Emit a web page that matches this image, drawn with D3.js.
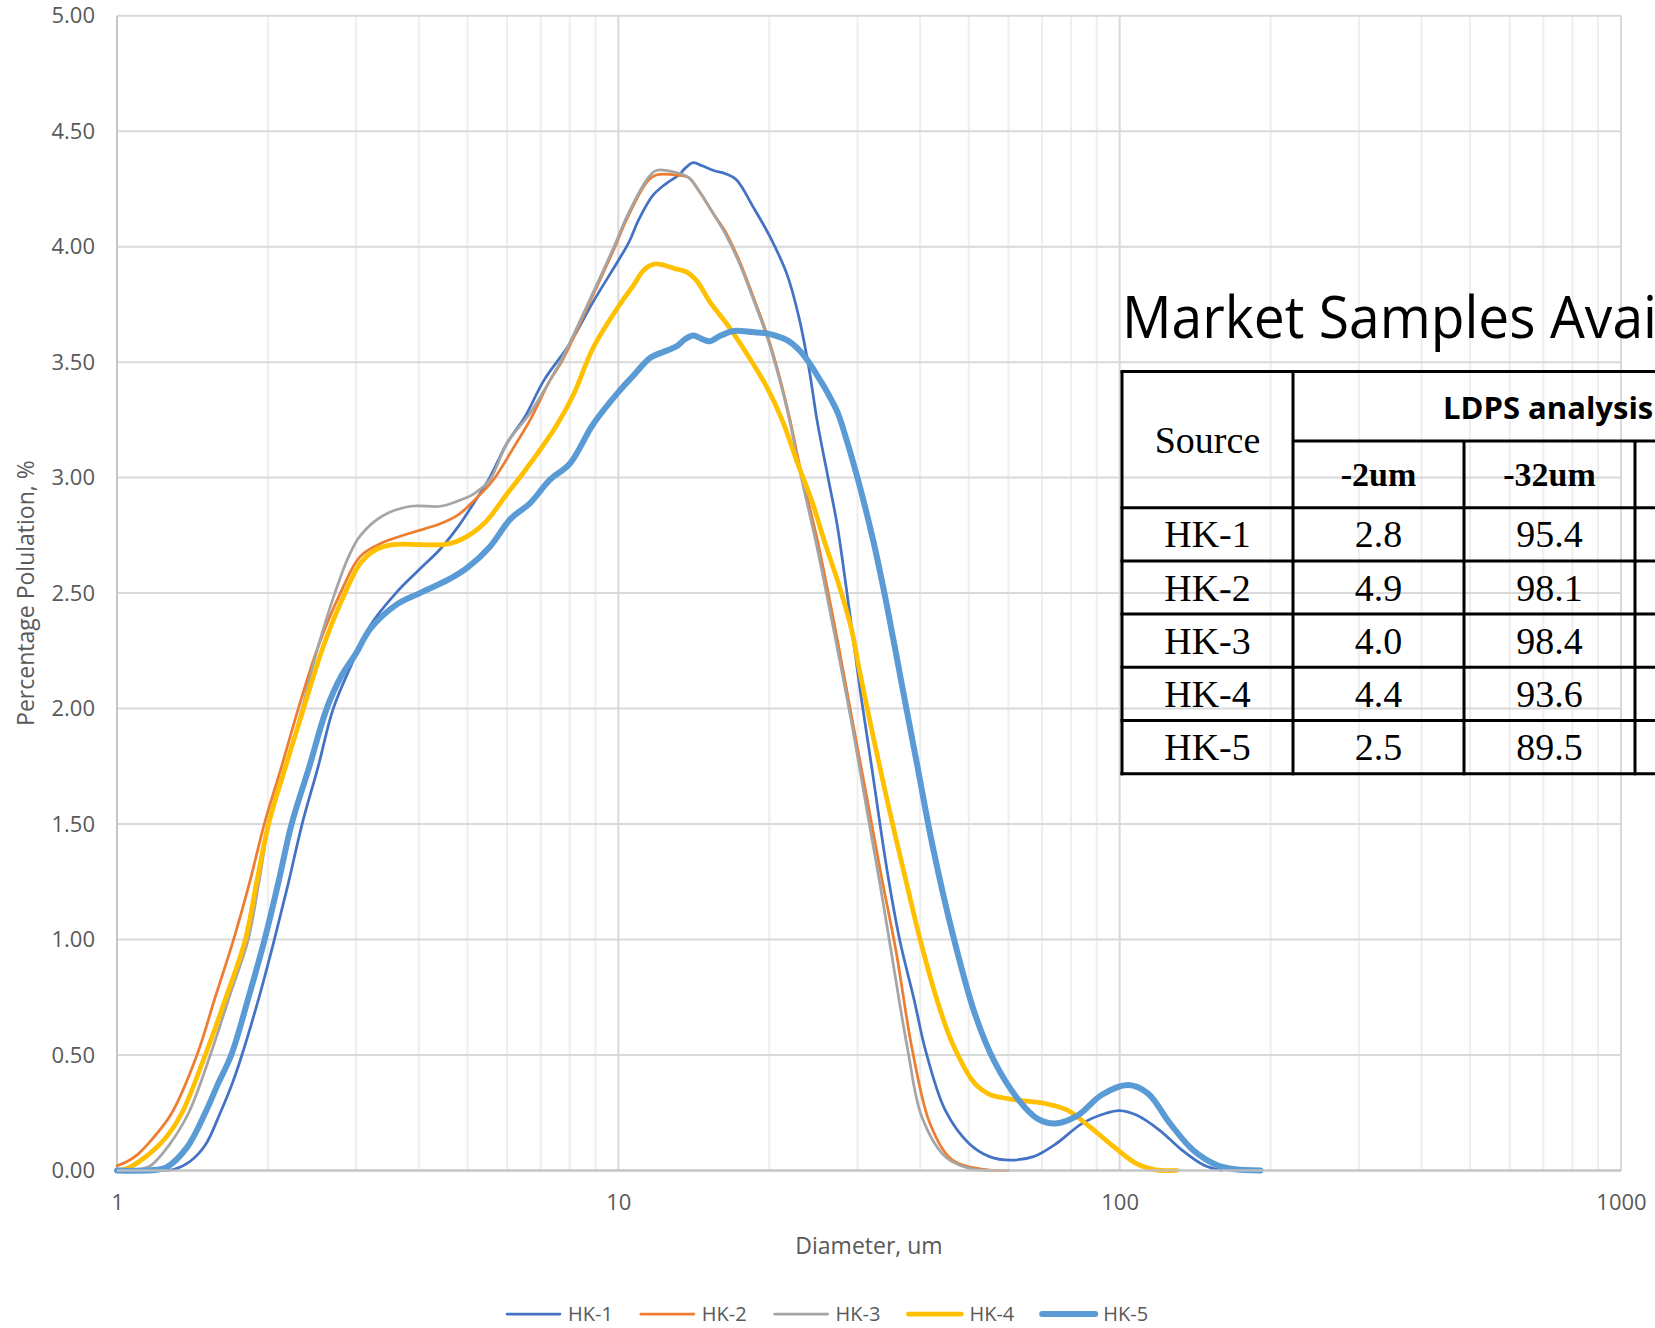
<!DOCTYPE html>
<html>
<head>
<meta charset="utf-8">
<script src="https://cdn.jsdelivr.net/npm/d3@7"></script>
<style>
  html, body { margin: 0; padding: 0; background: #ffffff; }
  svg { display: block; }
</style>
</head>
<body>
<svg id="chart" width="1655" height="1328"></svg>
<script>
// ---- particle size distributions: [diameter (um), population %] ----
const hk1 = [
  [1.0,0],[1.2,0],[1.3,0.005],[1.4,0.04],[1.5,0.11],[1.607,0.25],[1.7,0.38],[1.775,0.5],
  [1.92,0.75],[2.06,1.0],[2.2,1.25],[2.34,1.5],[2.52,1.75],[2.70,2.0],[2.95,2.2],[3.2,2.36],
  [3.6,2.5],[4.0,2.6],[4.41,2.69],[4.8,2.79],[5.15,2.89],[5.54,3.0],[6.0,3.15],[6.5,3.26],
  [7.1,3.42],[8.0,3.58],[8.9,3.76],[10.0,3.94],[10.5,4.02],[11.0,4.12],[11.7,4.22],[12.4,4.27],
  [13.2,4.31],[13.6,4.34],[14.1,4.364],[14.7,4.35],[15.5,4.33],[16.4,4.315],[17.2,4.29],
  [18.6,4.17],[20.1,4.04],[21.7,3.88],[23.0,3.68],[24.1,3.45],[24.9,3.25],[26.2,3.0],
  [27.3,2.8],[28.5,2.52],[29.5,2.28],[30.5,2.05],[32.0,1.75],[34.3,1.31],[36.4,1.0],
  [38.9,0.74],[41.0,0.52],[44.9,0.26],[50,0.118],[55,0.06],[60.6,0.045],[67.3,0.06],
  [74.9,0.118],[84.2,0.204],[93.9,0.248],[100,0.259],[108,0.24],[120,0.175],[133,0.089],
  [147,0.024],[160,0]
];
const hk2 = [
  [1.0,0.02],[1.05,0.04],[1.1,0.07],[1.18,0.14],[1.287,0.25],[1.444,0.5],[1.57,0.75],[1.708,1.0],
  [1.84,1.25],[1.967,1.5],[2.13,1.75],[2.30,2.0],[2.52,2.27],[2.79,2.5],[3.06,2.66],
  [3.4,2.72],[3.85,2.76],[4.41,2.8],[4.8,2.84],[5.15,2.9],[5.63,2.99],[6.18,3.13],
  [6.67,3.25],[7.3,3.42],[7.7,3.5],[8.9,3.79],[9.85,4.0],[10.4,4.12],[11.4,4.28],[11.9,4.31],
  [13.1,4.31],[13.8,4.30],[14.5,4.24],[15.5,4.14],[16.4,4.06],[17.5,3.93],[18.6,3.78],
  [19.8,3.62],[21.0,3.43],[22.0,3.25],[22.9,3.07],[25.0,2.72],[27.5,2.27],[29.4,1.93],
  [31.4,1.6],[33.5,1.27],[35.8,0.95],[38.6,0.52],[41.9,0.2],[46.4,0.045],[53.5,0.005],[60,0]
];
const hk3 = [
  [1.0,0],[1.1,0.004],[1.165,0.02],[1.27,0.11],[1.39,0.25],[1.535,0.5],[1.68,0.76],
  [1.827,1.0],[1.92,1.25],[2.01,1.5],[2.17,1.75],[2.34,2.0],[2.52,2.27],[2.72,2.5],
  [2.9,2.66],[3.06,2.75],[3.39,2.835],[3.85,2.876],[4.41,2.876],[4.8,2.9],[5.15,2.93],
  [5.54,2.99],[6.0,3.15],[6.67,3.28],[7.3,3.42],[7.7,3.51],[8.9,3.8],[9.85,4.01],
  [10.4,4.13],[11.4,4.29],[11.9,4.33],[13.1,4.32],[13.8,4.30],[14.5,4.24],[15.5,4.14],
  [16.4,4.05],[17.5,3.92],[18.6,3.77],[19.8,3.61],[21.0,3.42],[22.0,3.24],[22.9,3.05],
  [24.9,2.7],[27.4,2.25],[29.3,1.92],[31.2,1.58],[33.2,1.25],[35.0,0.95],[37.8,0.52],
  [40.3,0.233],[44.9,0.06],[50,0.01],[56,0]
];
const hk4 = [
  [1.0,0],[1.05,0.01],[1.165,0.075],[1.26,0.15],[1.348,0.25],[1.5,0.5],[1.65,0.75],
  [1.803,1.0],[1.9,1.25],[2.006,1.5],[2.17,1.75],[2.356,2.0],[2.58,2.27],[2.85,2.5],
  [3.06,2.63],[3.3,2.69],[3.56,2.71],[4.0,2.71],[4.47,2.71],[4.84,2.73],[5.39,2.8],
  [6.0,2.93],[6.46,3.02],[6.98,3.12],[7.55,3.23],[8.14,3.36],[8.9,3.56],[10.0,3.74],
  [10.7,3.83],[11.26,3.9],[11.87,3.925],[12.95,3.905],[13.7,3.89],[14.3,3.855],[15.3,3.754],
  [16.4,3.67],[18.0,3.54],[19.8,3.39],[21.3,3.24],[22.8,3.06],[24.4,2.89],[25.8,2.72],
  [27.5,2.54],[29.2,2.34],[30.3,2.16],[32.3,1.87],[34.9,1.54],[37.7,1.23],[40.0,1.0],
  [43.2,0.74],[46.4,0.55],[51.4,0.377],[55,0.33],[59.2,0.313],[65,0.3],[71.0,0.29],
  [78.5,0.262],[87.1,0.19],[97.3,0.103],[108,0.03],[118,0.003],[130,0]
];
const hk5 = [
  [1.0,0],[1.2,0.003],[1.258,0.015],[1.379,0.1],[1.5,0.25],[1.59,0.375],[1.69,0.5],
  [1.83,0.75],[1.97,1.0],[2.1,1.25],[2.23,1.5],[2.42,1.75],[2.62,2.0],[2.8,2.14],[3.0,2.24],
  [3.2,2.345],[3.61,2.45],[4.02,2.5],[4.6,2.56],[5.0,2.61],[5.54,2.7],[6.09,2.82],
  [6.67,2.89],[7.3,2.99],[8.0,3.06],[8.9,3.23],[10.0,3.37],[10.7,3.44],[11.6,3.52],
  [12.5,3.55],[13.1,3.57],[13.6,3.6],[14.1,3.615],[14.7,3.6],[15.2,3.59],[16.0,3.615],
  [17.0,3.635],[18.5,3.63],[19.8,3.624],[21.7,3.595],[23.0,3.55],[23.8,3.51],[25.3,3.42],
  [26.1,3.37],[27.4,3.28],[28.1,3.21],[29.9,3.01],[32.3,2.72],[34.3,2.45],[37.1,2.06],
  [39.5,1.75],[42.4,1.4],[46.5,1.02],[51.4,0.68],[56.3,0.47],[62.9,0.305],[68.5,0.225],
  [74.5,0.204],[82.7,0.24],[92.0,0.327],[104.0,0.37],[113.8,0.334],[126.0,0.204],
  [140.0,0.089],[156.1,0.024],[170,0.005],[191,0]
];

const seriesNames  = ["HK-1", "HK-2", "HK-3", "HK-4", "HK-5"];
const seriesData   = [hk1, hk2, hk3, hk4, hk5];
const seriesColors = ["#4472C4", "#ED7D31", "#A5A5A5", "#FFC000", "#5B9BD5"];
const seriesWidths = [2.75, 2.75, 2.75, 4.75, 6];

const yTicks = [0, 0.5, 1, 1.5, 2, 2.5, 3, 3.5, 4, 4.5, 5];
const xTicks = [1, 10, 100, 1000];

// ---- summary table ----
const tableTitle = "Market Samples Available";
const tableGroupHeader = "LDPS analysis";
const tableColHeaders = ["-2um", "-32um"];
const tableSources = ["HK-1", "HK-2", "HK-3", "HK-4", "HK-5"];
const minus2um  = ["2.8", "4.9", "4.0", "4.4", "2.5"];
const minus32um = ["95.4", "98.1", "98.4", "93.6", "89.5"];

// ---- layout ----
const W = 1655, H = 1328;
const plot = { left: 117, right: 1621, top: 15.7, bottom: 1170.5 };
const sans = "'Open Sans', 'Noto Sans', sans-serif";
const serif = "'Liberation Serif', 'Times New Roman', serif";
const textGray = "#595959";

const svg = d3.select("#chart").attr("viewBox", `0 0 ${W} ${H}`).style("overflow", "hidden");
svg.append("rect").attr("width", W).attr("height", H).attr("fill", "#ffffff");

const x = d3.scaleLog().domain([1, 1000]).range([plot.left, plot.right]);
const y = d3.scaleLinear().domain([0, 5]).range([plot.bottom, plot.top]);

// gridlines
const grid = svg.append("g");
const minorX = [];
[1, 10, 100].forEach(dec => { for (let k = 2; k <= 9; k++) minorX.push(k * dec); });
grid.selectAll("line.minor").data(minorX).join("line")
  .attr("x1", d => x(d)).attr("x2", d => x(d))
  .attr("y1", plot.top).attr("y2", plot.bottom)
  .attr("stroke", "#eeeeee").attr("stroke-width", 2);
grid.selectAll("line.majx").data(xTicks.slice(1)).join("line")
  .attr("x1", d => x(d)).attr("x2", d => x(d))
  .attr("y1", plot.top).attr("y2", plot.bottom)
  .attr("stroke", "#d9d9d9").attr("stroke-width", 2);
grid.selectAll("line.majy").data(yTicks.slice(1)).join("line")
  .attr("x1", plot.left).attr("x2", plot.right)
  .attr("y1", d => y(d)).attr("y2", d => y(d))
  .attr("stroke", "#d9d9d9").attr("stroke-width", 2);

// left axis line
svg.append("line").attr("x1", plot.left).attr("x2", plot.left)
  .attr("y1", plot.top).attr("y2", plot.bottom)
  .attr("stroke", "#c6c6c6").attr("stroke-width", 2);

// y axis labels
const yAxis = svg.append("g").attr("transform", `translate(${plot.left},0)`)
  .call(d3.axisLeft(y).tickValues(yTicks).tickFormat(d3.format(".2f")).tickSize(0).tickPadding(22));
yAxis.select(".domain").remove();
yAxis.selectAll("text").attr("fill", textGray).style("font-family", sans).style("font-size", "22px");

// x axis labels
const xAxis = svg.append("g").attr("transform", `translate(0,${plot.bottom})`)
  .call(d3.axisBottom(x).tickValues(xTicks).tickFormat(d3.format("d")).tickSize(0).tickPadding(24));
xAxis.select(".domain").remove();
xAxis.selectAll("text").attr("fill", textGray).style("font-family", sans).style("font-size", "22px");

// axis titles
svg.append("text").attr("x", (plot.left + plot.right) / 2).attr("y", 1254)
  .attr("text-anchor", "middle").attr("fill", textGray)
  .style("font-family", sans).style("font-size", "23px").text("Diameter, um");
svg.append("text").attr("transform", `translate(34,${(plot.top + plot.bottom) / 2}) rotate(-90)`)
  .attr("text-anchor", "middle").attr("fill", textGray)
  .style("font-family", sans).style("font-size", "23px").text("Percentage Polulation, %");

// series, smoothed through the measured points
const line = d3.line().x(d => x(d[0])).y(d => y(d[1])).curve(d3.curveCatmullRom.alpha(0.5));
svg.append("g").selectAll("path").data(seriesData).join("path")
  .attr("d", d => line(d))
  .attr("fill", "none")
  .attr("stroke", (d, i) => seriesColors[i])
  .attr("stroke-width", (d, i) => seriesWidths[i])
  .attr("stroke-linejoin", "round").attr("stroke-linecap", "round");

// bottom axis line drawn over the curves
svg.append("line").attr("x1", plot.left).attr("x2", plot.right)
  .attr("y1", plot.bottom).attr("y2", plot.bottom)
  .attr("stroke", "#bfbfbf").attr("stroke-width", 2.5).attr("opacity", 0.9);

// legend
const legend = svg.append("g").attr("transform", "translate(507,1314)");
const legendItems = legend.selectAll("g").data(seriesNames).join("g")
  .attr("transform", (d, i) => `translate(${i * 133.8},0)`);
legendItems.append("line").attr("x1", 0).attr("x2", 53).attr("y1", 0).attr("y2", 0)
  .attr("stroke", (d, i) => seriesColors[i])
  .attr("stroke-width", (d, i) => seriesWidths[i])
  .attr("stroke-linecap", "round");
legendItems.append("text").attr("x", 61).attr("y", 7)
  .attr("fill", textGray).style("font-family", sans).style("font-size", "20px")
  .text(d => d);

// ---- table overlay ----
const tbl = svg.append("g");
const tx0 = 1122;
const colX = [1122, 1293, 1464, 1635, 1806];
const topY = 371.5, groupBottom = 441, headBottom = 507.7, rowH = 53.2;

// title, condensed to the narrow width of the original lettering
const title = tbl.append("text").attr("x", 0).attr("y", 0)
  .style("font-family", sans).style("font-size", "59px").attr("fill", "#000")
  .text(tableTitle.slice(0, 19));
const measured = title.node().getComputedTextLength();
const squeeze = 535 / measured;
title.text(tableTitle).attr("transform", `translate(${tx0},337.7) scale(${squeeze},1)`);

const border = { stroke: "#000", w: 3 };
function hline(x1, x2, yy) {
  tbl.append("line").attr("x1", x1).attr("x2", x2).attr("y1", yy).attr("y2", yy)
    .attr("stroke", border.stroke).attr("stroke-width", border.w);
}
function vline(xx, y1, y2) {
  tbl.append("line").attr("x1", xx).attr("x2", xx).attr("y1", y1).attr("y2", y2)
    .attr("stroke", border.stroke).attr("stroke-width", border.w);
}
const tableBottom = headBottom + rowH * tableSources.length;
hline(colX[0] - 1.5, W + 20, topY);
hline(colX[1], W + 20, groupBottom);
for (let r = 0; r <= tableSources.length; r++) hline(colX[0] - 1.5, W + 20, headBottom + r * rowH);
vline(colX[0], topY, tableBottom + 1.5);
vline(colX[1], topY, tableBottom + 1.5);
vline(colX[2], groupBottom, tableBottom + 1.5);
vline(colX[3], groupBottom, tableBottom + 1.5);

tbl.append("text").attr("x", (colX[0] + colX[1]) / 2).attr("y", (topY + headBottom) / 2 + 13)
  .attr("text-anchor", "middle").style("font-family", serif).style("font-size", "38px")
  .text("Source");
tbl.append("text").attr("x", 1443).attr("y", 419)
  .style("font-family", sans).style("font-size", "31px").style("font-weight", "700")
  .text(tableGroupHeader);
tableColHeaders.forEach((h, i) => {
  tbl.append("text").attr("x", (colX[i + 1] + colX[i + 2]) / 2).attr("y", (groupBottom + headBottom) / 2 + 12)
    .attr("text-anchor", "middle").style("font-family", serif).style("font-size", "34px")
    .style("font-weight", "700").text(h);
});
const rowCols = [tableSources, minus2um, minus32um];
rowCols.forEach((col, c) => {
  col.forEach((v, r) => {
    tbl.append("text").attr("x", (colX[c] + colX[c + 1]) / 2)
      .attr("y", headBottom + r * rowH + rowH / 2 + 13)
      .attr("text-anchor", "middle").style("font-family", serif).style("font-size", "38px")
      .text(v);
  });
});
</script>
</body>
</html>
